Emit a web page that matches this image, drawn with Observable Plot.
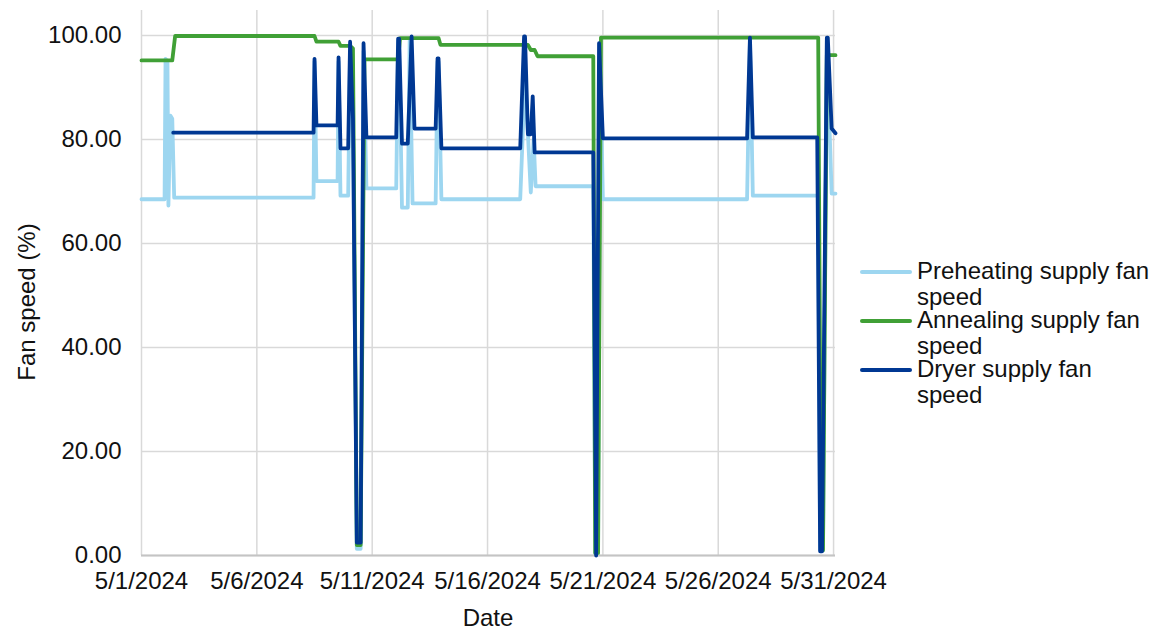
<!DOCTYPE html>
<html>
<head>
<meta charset="utf-8">
<script src="https://cdn.jsdelivr.net/npm/d3@7"></script>
<script src="https://cdn.jsdelivr.net/npm/@observablehq/plot@0.6"></script>
<style>
  html, body { margin: 0; padding: 0; background: #fff; }
  #wrap { position: relative; width: 1155px; height: 630px; font-family: "Liberation Sans", Arial, sans-serif; color: #111; }
  #wrap svg { position: absolute; left: 0; top: 0; }
  .title { position: absolute; font-size: 24px; line-height: 22px; white-space: nowrap; }
  .leg { position: absolute; font-size: 24px; line-height: 26px; width: 245px; }
  .leg .sw { position: absolute; left: -57px; top: 12px; width: 52px; height: 4px; border-radius: 2px; }
</style>
</head>
<body>
<div id="wrap"></div>
<script>
// ---- data ----
const seriesNames = ["Preheating supply fan speed", "Annealing supply fan speed", "Dryer supply fan speed"];
const seriesColors = ["#9DD6F0", "#40A036", "#003893"];

const preheatTime = ["2024-05-01T00","2024-05-02T00","2024-05-02T01","2024-05-02T03","2024-05-02T04","2024-05-02T06","2024-05-02T08","2024-05-02T10",
  "2024-05-08T11","2024-05-08T12","2024-05-08T14","2024-05-09T12","2024-05-09T13","2024-05-09T15","2024-05-09T23",
  "2024-05-10T01","2024-05-10T04","2024-05-10T08","2024-05-10T12","2024-05-10T15","2024-05-10T18",
  "2024-05-12T01","2024-05-12T03","2024-05-12T04","2024-05-12T07","2024-05-12T13","2024-05-12T15","2024-05-12T18",
  "2024-05-13T18","2024-05-13T20","2024-05-13T21","2024-05-14T00",
  "2024-05-17T10","2024-05-17T15","2024-05-17T21","2024-05-18T00","2024-05-18T02","2024-05-18T04",
  "2024-05-20T14","2024-05-20T16","2024-05-20T19","2024-05-20T21","2024-05-21T00",
  "2024-05-27T06","2024-05-27T09","2024-05-27T12",
  "2024-05-30T08","2024-05-30T10","2024-05-30T13","2024-05-30T17","2024-05-30T20","2024-05-30T22","2024-05-31T02"];
const preheatValue = [68.5,68.5,95.5,95.0,67.3,84.6,84.0,68.8,
  68.8,95.0,72.0,72.0,95.0,69.2,69.2,
  97.0,84.0,1.3,1.3,97.0,70.6,
  70.6,99.0,99.0,66.9,66.9,99.0,67.7,
  67.7,95.0,95.0,68.5,
  68.5,92.3,69.8,80.0,71.0,71.0,
  71.0,0.5,0.5,97.0,68.5,
  68.5,99.0,69.2,
  69.2,1.0,1.0,99.0,81.0,69.6,69.6];

const annealTime = ["2024-05-01T00","2024-05-02T08","2024-05-02T11","2024-05-08T12","2024-05-08T14","2024-05-09T13","2024-05-09T15",
  "2024-05-10T01","2024-05-10T04","2024-05-10T08","2024-05-10T12","2024-05-10T16",
  "2024-05-12T03","2024-05-12T05","2024-05-13T21","2024-05-13T23",
  "2024-05-17T18","2024-05-17T21","2024-05-18T01","2024-05-18T04",
  "2024-05-20T14","2024-05-20T16","2024-05-20T19","2024-05-20T22",
  "2024-05-30T08","2024-05-30T11","2024-05-30T13","2024-05-30T17","2024-05-31T02"];
const annealValue = [95.2,95.2,99.9,99.9,98.8,98.8,98.0,
  98.0,97.5,2.0,2.0,95.4,
  95.4,99.5,99.5,98.2,
  98.2,97.2,97.2,96.0,
  96.0,0.5,0.5,99.6,
  99.6,1.0,1.0,96.2,96.2];

const dryerTime = ["2024-05-02T09","2024-05-08T11","2024-05-08T12","2024-05-08T14","2024-05-09T12","2024-05-09T13","2024-05-09T15","2024-05-09T23",
  "2024-05-10T01","2024-05-10T04","2024-05-10T08","2024-05-10T12","2024-05-10T15","2024-05-10T18",
  "2024-05-12T01","2024-05-12T03","2024-05-12T04","2024-05-12T07","2024-05-12T13","2024-05-12T17","2024-05-12T20",
  "2024-05-13T18","2024-05-13T20","2024-05-13T21","2024-05-14T00",
  "2024-05-17T10","2024-05-17T14","2024-05-17T15","2024-05-17T18","2024-05-17T21","2024-05-17T23","2024-05-18T01",
  "2024-05-20T14","2024-05-20T17","2024-05-20T20","2024-05-21T00",
  "2024-05-27T06","2024-05-27T09","2024-05-27T12",
  "2024-05-30T07","2024-05-30T10","2024-05-30T12","2024-05-30T17","2024-05-30T18","2024-05-30T22","2024-05-31T02"];
const dryerValue = [81.3,81.3,95.5,82.7,82.7,95.8,78.3,78.3,
  98.8,84.0,2.5,2.5,98.5,80.4,
  80.4,99.4,99.4,79.2,79.2,99.8,82.1,
  82.1,95.6,95.6,78.3,
  78.3,99.8,99.8,81.0,81.0,88.3,77.5,
  77.5,0.0,98.5,80.2,
  80.2,99.6,80.4,
  80.4,0.8,0.8,99.6,99.6,82.1,81.2];

const xTickLabels = ["5/1/2024","5/6/2024","5/11/2024","5/16/2024","5/21/2024","5/26/2024","5/31/2024"];
const yTicks = [0, 20, 40, 60, 80, 100];

// ---- build table ----
const parseT = s => new Date(s + ":00Z");
const rows = [];
[[preheatTime, preheatValue], [annealTime, annealValue], [dryerTime, dryerValue]].forEach(([t, v], k) => {
  t.forEach((s, i) => rows.push({series: seriesNames[k], date: parseT(s), value: v[i]}));
});
const xTickDates = xTickLabels.map(l => { const [m, d, y] = l.split("/").map(Number); return new Date(Date.UTC(y, m - 1, d)); });
const tickLabelOf = d => xTickLabels[xTickDates.findIndex(t => +t === +d)];

const chart = Plot.plot({
  width: 1155,
  height: 630,
  marginLeft: 141,
  marginRight: 320,
  marginTop: 10,
  marginBottom: 75,
  style: {fontFamily: '"Liberation Sans", Arial, sans-serif', fontSize: "24px", color: "#111", background: "transparent"},
  x: {type: "utc", domain: [parseT("2024-05-01T00"), parseT("2024-05-31T02")]},
  y: {domain: [0, 104.8]},
  color: {domain: seriesNames, range: seriesColors},
  marks: [
    Plot.gridX(xTickDates, {stroke: "#d9d9d9", strokeOpacity: 1, strokeWidth: 1.5}),
    Plot.gridY(yTicks, {stroke: "#d9d9d9", strokeOpacity: 1, strokeWidth: 1.5}),
    Plot.ruleY([0], {stroke: "#c4c4c4", strokeWidth: 2}),
    Plot.axisX({ticks: xTickDates, tickFormat: tickLabelOf, tickSize: 0, tickPadding: 16, label: null, fontSize: 24}),
    Plot.axisY({ticks: yTicks, tickFormat: d => d.toFixed(2), tickSize: 0, tickPadding: 20, label: null, fontSize: 24}),
    Plot.line(rows, {x: "date", y: "value", z: "series", stroke: "series", strokeWidth: 3.8, strokeLinejoin: "round", strokeLinecap: "round"})
  ]
});

const wrap = document.getElementById("wrap");
wrap.appendChild(chart);

// axis titles
const yt = document.createElement("div");
yt.className = "title";
yt.textContent = "Fan speed (%)";
yt.style.left = "27px"; yt.style.top = "302px";
yt.style.transform = "translate(-50%, -50%) rotate(-90deg)";
wrap.appendChild(yt);

const xt = document.createElement("div");
xt.className = "title";
xt.textContent = "Date";
xt.style.left = "488px"; xt.style.top = "618px";
xt.style.transform = "translate(-50%, -50%)";
wrap.appendChild(xt);

// legend
seriesNames.forEach((name, i) => {
  const it = document.createElement("div");
  it.className = "leg";
  it.style.left = "917px";
  it.style.top = (258 + i * 49) + "px";
  const sw = document.createElement("span");
  sw.className = "sw";
  sw.style.background = seriesColors[i];
  it.appendChild(sw);
  it.appendChild(document.createTextNode(name));
  wrap.appendChild(it);
});
</script>
</body>
</html>
